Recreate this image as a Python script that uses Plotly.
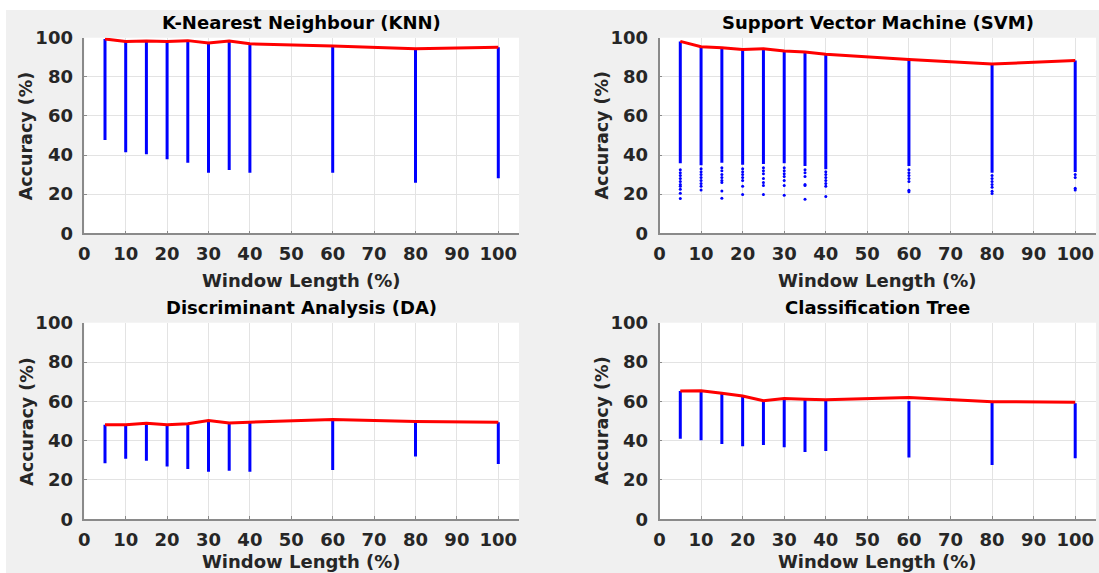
import plotly.graph_objects as go

W, H = 1099, 573

windows = [5, 10, 15, 20, 25, 30, 35, 40, 60, 80, 100]

# K-Nearest Neighbour
knn_best = [99.3, 98.0, 98.3, 98.1, 98.5, 97.3, 98.3, 96.9, 95.7, 94.4, 95.1]
knn_top = [99.3, 98.0, 98.3, 98.1, 98.5, 97.3, 98.3, 96.9, 95.7, 94.0, 95.1]
knn_low = [47.7, 41.4, 40.4, 37.8, 36.1, 31.0, 32.4, 31.0, 31.0, 25.9, 28.1]

# Support Vector Machine
svm_best = [98.1, 95.4, 94.9, 94.0, 94.4, 93.2, 92.7, 91.5, 88.9, 86.5, 88.4]
svm_top = [98.1, 95.4, 94.9, 94.0, 94.4, 93.2, 92.7, 91.5, 88.9, 86.5, 88.4]
svm_low = [35.8, 34.8, 36.1, 35.1, 35.4, 35.8, 34.4, 32.7, 34.4, 31.0, 31.3]
svm_outliers = [
    [32.5, 31.0, 29.5, 28.0, 26.5, 25.0, 24.0, 22.5, 20.5, 17.8],
    [33.0, 31.5, 30.0, 28.5, 27.0, 25.5, 24.0, 22.2],
    [33.5, 32.0, 30.0, 28.5, 27.0, 26.0, 21.6, 17.9],
    [33.0, 31.5, 30.0, 28.5, 27.0, 24.0, 19.8],
    [33.5, 32.0, 30.5, 28.0, 26.0, 24.5, 19.8],
    [33.5, 32.0, 30.5, 29.0, 27.0, 24.5, 19.5],
    [32.5, 31.0, 29.0, 25.0, 24.5, 17.4],
    [31.5, 30.0, 28.5, 27.0, 25.5, 24.0, 18.8],
    [32.5, 31.0, 29.5, 28.0, 26.5, 22.0, 21.2],
    [29.5, 28.0, 26.5, 25.0, 23.5, 21.5, 20.4],
    [30.0, 28.5, 23.0, 22.2],
]

# Discriminant Analysis
da_best = [48.1, 48.1, 48.8, 48.1, 48.6, 50.2, 49.0, 49.3, 50.8, 49.7, 49.3]
da_top = [48.1, 48.1, 48.8, 48.1, 48.6, 50.2, 49.0, 49.3, 50.8, 49.7, 49.3]
da_low = [28.5, 30.7, 29.8, 26.8, 25.6, 24.2, 24.6, 24.1, 25.1, 31.9, 28.1]

# Classification Tree
ct_best = [65.3, 65.4, 64.1, 62.7, 60.3, 61.4, 61.0, 60.8, 61.9, 59.8, 59.5]
ct_top = [65.3, 65.3, 63.8, 62.5, 60.0, 61.2, 60.6, 60.6, 60.2, 59.3, 59.0]
ct_low = [41.0, 40.2, 38.3, 37.1, 37.8, 36.6, 34.2, 34.7, 31.4, 27.6, 31.0]

titles = ["K-Nearest Neighbour (KNN)", "Support Vector Machine (SVM)",
          "Discriminant Analysis (DA)", "Classification Tree"]
x_ticks = [0, 10, 20, 30, 40, 50, 60, 70, 80, 90, 100]
y_ticks = [0, 20, 40, 60, 80, 100]
x_title = "Window Length (%)"
y_title = "Accuracy (%)"

FONT = "DejaVu Sans"
TXT = "#262626"
BLUE = "#0000ff"
RED = "#ff0000"

# plot boxes in pixels: (left, top, right, bottom)
boxes = [
    (84.3, 37.7, 519.0, 233.3),
    (659.5, 37.7, 1096.0, 233.3),
    (84.3, 322.7, 519.0, 519.2),
    (659.5, 322.7, 1096.0, 519.2),
]

panels = [
    (knn_best, knn_top, knn_low, None),
    (svm_best, svm_top, svm_low, svm_outliers),
    (da_best, da_top, da_low, None),
    (ct_best, ct_top, ct_low, None),
]

fig = go.Figure()
annotations = []

for i, ((best, top, low, outl), box, title) in enumerate(zip(panels, boxes, titles)):
    n = i + 1
    xa = "x" if n == 1 else f"x{n}"
    ya = "y" if n == 1 else f"y{n}"
    # blue columns (range of accuracies)
    lx, ly = [], []
    for w, t, l in zip(windows, top, low):
        lx += [w, w, None]
        ly += [l, t, None]
    fig.add_trace(go.Scatter(x=lx, y=ly, mode="lines",
                             line=dict(color=BLUE, width=3),
                             xaxis=xa, yaxis=ya, showlegend=False, hoverinfo="skip"))
    if outl is not None:
        ox, oy = [], []
        for w, vals in zip(windows, outl):
            for v in vals:
                ox.append(w)
                oy.append(v)
        fig.add_trace(go.Scatter(x=ox, y=oy, mode="markers",
                                 marker=dict(color=BLUE, size=3),
                                 xaxis=xa, yaxis=ya, showlegend=False))
    # red best-accuracy line
    fig.add_trace(go.Scatter(x=windows, y=best, mode="lines",
                             line=dict(color=RED, width=3),
                             xaxis=xa, yaxis=ya, showlegend=False))

    l, t, r, b = box
    axis_common = dict(
        showgrid=True, gridcolor="#e3e3e3", gridwidth=1,
        showline=True, linecolor="#8a8a8a", linewidth=1.5,
        ticks="inside", ticklen=3, tickcolor="#8a8a8a",
        tickfont=dict(family=FONT, size=18, color=TXT, weight="bold"),
        zeroline=False, fixedrange=True, automargin=False,
    )
    fig.layout[f"xaxis{'' if n == 1 else n}"] = dict(
        axis_common, domain=[l / W, r / W], range=[0, 105],
        tickvals=x_ticks, anchor=ya, ticklabelstandoff=3)
    fig.layout[f"yaxis{'' if n == 1 else n}"] = dict(
        axis_common, domain=[1 - b / H, 1 - t / H], range=[0, 100],
        tickvals=y_ticks, anchor=xa, ticklabelstandoff=6)

    cx = (l + r) / 2
    cy = (t + b) / 2
    # keep the lower-row x titles just inside the page
    xt_off = 46.7 if b < 300 else 42.5
    annotations.append(dict(text=title, x=cx / W, y=1 - (t - 15.5) / H,
                            xref="paper", yref="paper", showarrow=False,
                            xanchor="center", yanchor="middle",
                            font=dict(family=FONT, size=18, color="#000000", weight="bold")))
    annotations.append(dict(text=x_title, x=cx / W, y=1 - (b + xt_off) / H,
                            xref="paper", yref="paper", showarrow=False,
                            xanchor="center", yanchor="middle",
                            font=dict(family=FONT, size=18, color=TXT, weight="bold")))
    annotations.append(dict(text=y_title, x=(l - 57.5) / W, y=1 - cy / H,
                            xref="paper", yref="paper", showarrow=False,
                            textangle=-90, xanchor="center", yanchor="middle",
                            font=dict(family=FONT, size=17.5, color=TXT, weight="bold")))

fig.update_layout(
    width=W, height=H,
    autosize=False,
    margin=dict(l=0, r=0, t=0, b=0, pad=0, autoexpand=False),
    paper_bgcolor="#f0f0f0",
    plot_bgcolor="#ffffff",
    showlegend=False,
    annotations=annotations,
    shapes=[
        dict(type="rect", xref="paper", yref="paper", x0=0, x1=1, y0=1 - 10 / H, y1=1,
             fillcolor="#ffffff", line=dict(width=0), layer="below"),
        dict(type="rect", xref="paper", yref="paper", x0=0, x1=6 / W, y0=0, y1=1,
             fillcolor="#ffffff", line=dict(width=0), layer="below"),
    ],
)

fig.write_html("out.html")
